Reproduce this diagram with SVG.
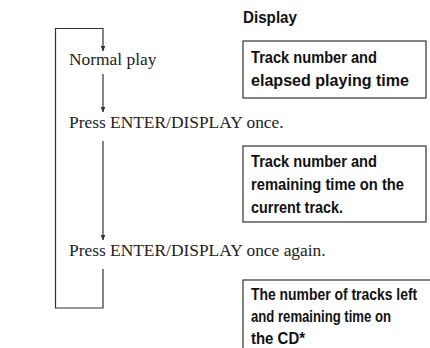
<svg xmlns="http://www.w3.org/2000/svg" width="430" height="348" viewBox="0 0 430 348">
<style>
.s{font-family:"Liberation Serif","Times New Roman",serif;font-size:17.4px;fill:#222}
.b{font-family:"Liberation Sans",Arial,sans-serif;font-weight:bold;font-size:16px;fill:#111}
.box{fill:#fff;stroke:#333;stroke-width:1.2}
.ln{fill:none;stroke:#333;stroke-width:1.2}
</style>
<defs>
<marker id="ah" markerWidth="6" markerHeight="7" refX="5.5" refY="3" orient="auto" markerUnits="userSpaceOnUse" viewBox="0 0 6 6">
<path d="M0,0.5 L6,3 L0,5.5 Z" fill="#333"/>
</marker>
</defs>
<rect width="430" height="348" fill="#fff"/>
<g id="connectors">
<path class="ln" d="M103,269 V308 H55.5 V28.5 H103 V51" marker-end="url(#ah)"/>
<path class="ln" d="M103,74 V112" marker-end="url(#ah)"/>
<path class="ln" d="M103,141 V240" marker-end="url(#ah)"/>
</g>
<g id="normal-play"><text class="s" x="69" y="65">Normal play</text></g>
<g id="press-once"><text class="s" x="69" y="128">Press ENTER/DISPLAY once.</text></g>
<g id="press-again"><text class="s" x="69" y="256">Press ENTER/DISPLAY once again.</text></g>
<g id="display-header"><text class="b" x="243" y="23" textLength="54" lengthAdjust="spacingAndGlyphs">Display</text></g>
<g id="display1">
<rect class="box" x="243" y="41" width="183" height="57"/>
<text class="b" x="251" y="63" textLength="126" lengthAdjust="spacingAndGlyphs">Track number and</text>
<text class="b" x="251" y="86" textLength="158" lengthAdjust="spacingAndGlyphs">elapsed playing time</text>
</g>
<g id="display2">
<rect class="box" x="243" y="146" width="183" height="76"/>
<text class="b" x="251" y="167" textLength="126" lengthAdjust="spacingAndGlyphs">Track number and</text>
<text class="b" x="251" y="190" textLength="153" lengthAdjust="spacingAndGlyphs">remaining time on the</text>
<text class="b" x="251" y="213" textLength="92" lengthAdjust="spacingAndGlyphs">current track.</text>
</g>
<g id="display3">
<rect class="box" x="243" y="280" width="192" height="80"/>
<text class="b" transform="translate(251,300) scale(0.87,1)" x="0" y="0">The number of tracks left</text>
<text class="b" x="251" y="322" textLength="140" lengthAdjust="spacingAndGlyphs">and remaining time on</text>
<text class="b" x="251" y="344" textLength="54" lengthAdjust="spacingAndGlyphs">the CD*</text>
</g>
</svg>
